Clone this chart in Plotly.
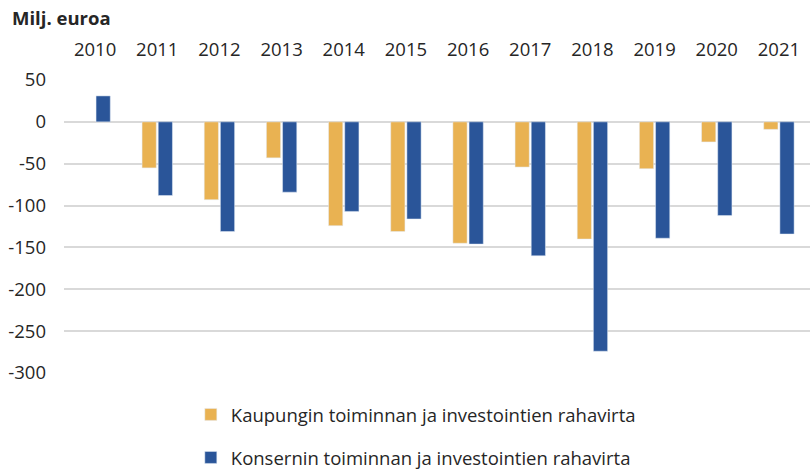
import plotly.graph_objects as go

years = ["2010", "2011", "2012", "2013", "2014", "2015", "2016", "2017", "2018", "2019", "2020", "2021"]
city = [None, -55, -93, -43, -124, -131, -145, -54, -140, -56, -24, -9]
group = [31, -88, -131, -84, -107, -116, -146, -160, -274, -139, -112, -134]
ytick_vals = [50, 0, -50, -100, -150, -200, -250, -300]
ytick_text = ["50", "0", "-50", "-100", "-150", "-200", "-250", "-300"]

name_city = "Kaupungin toiminnan ja investointien rahavirta"
name_group = "Konsernin toiminnan ja investointien rahavirta"

FONT = "Open Sans"
TXT = "#262626"
FS = 18.5

fig = go.Figure()
fig.add_bar(x=years, y=city, name=name_city, marker_color="#E9B252",
            legendgroup="a")
fig.add_bar(x=years, y=group, name=name_group, marker_color="#2A5599",
            legendgroup="b")

fig.update_layout(
    width=810, height=471,
    margin=dict(l=64, r=0, t=80, b=98, autoexpand=False),
    paper_bgcolor="white", plot_bgcolor="white",
    font=dict(family=FONT, size=FS, color=TXT),
    barmode="group", bargap=0.48, bargroupgap=0.12,
    showlegend=True,
    legend=dict(orientation="v", x=0.17, xanchor="left", y=-0.078, yanchor="top",
                font=dict(size=FS, color=TXT), tracegroupgap=16,
                itemwidth=30),
    annotations=[dict(text="<b>Milj. euroa</b>", xref="paper", yref="paper",
                      x=-54/746, xanchor="left", y=1 + 62/293, yanchor="middle",
                      showarrow=False, font=dict(size=FS, color=TXT, family=FONT))],
)
fig.update_xaxes(side="top", showgrid=False, showline=False, ticks="",
                 ticklabelstandoff=19, tickfont=dict(size=FS, color=TXT))
fig.update_yaxes(range=[-300, 50], tickvals=ytick_vals, ticktext=ytick_text,
                 showgrid=True, gridcolor="#D9D9D9", gridwidth=1.5,
                 zeroline=True, zerolinecolor="#D9D9D9", zerolinewidth=1.5,
                 showline=False, ticks="", ticklabelstandoff=17,
                 tickfont=dict(size=FS, color=TXT))

fig.write_html("out.html")
